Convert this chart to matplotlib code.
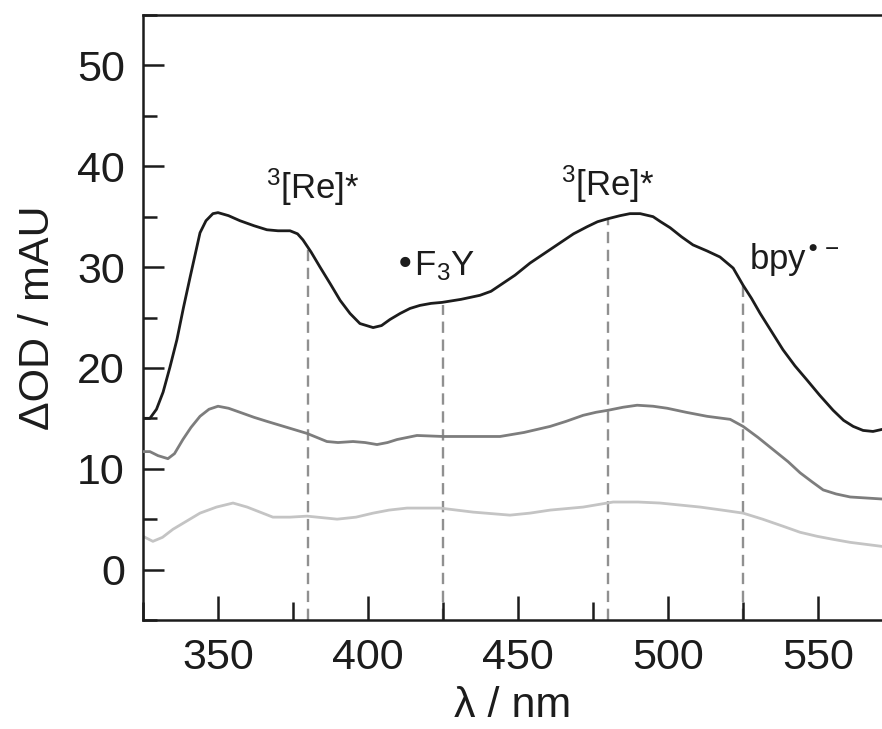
import matplotlib
matplotlib.use("Agg")
import matplotlib.pyplot as plt
from matplotlib.ticker import MultipleLocator

plt.rcParams["font.family"] = ["Liberation Sans", "DejaVu Sans"]
plt.rcParams["mathtext.default"] = "regular"

# Spectra (wavelength in nm, dOD in mAU)
wl_black = [325, 327.3, 329.5, 331.7, 334, 336.3, 338.5, 340.7, 342.5, 344, 346, 348.3, 350,
            353.5, 357.3, 362, 366.3, 370, 374, 376.5, 378.3, 381, 384, 387.5, 390.7, 394, 397.3,
            401.7, 404.5, 407.3, 410.7, 414, 417.3, 421, 424.7, 431, 437.3, 441, 444, 449, 454,
            459, 464, 468.5, 473, 476.5, 480, 484, 487.3, 490.7, 495, 497.5, 500.7, 504.5, 508.3,
            513, 517.3, 521.7, 525, 527.8, 530.7, 534.5, 538.3, 542.3, 546.3, 550.5, 555, 558.5,
            561.7, 565, 568.3, 571.3]
od_black = [15.0, 15.0, 15.9, 17.6, 20.1, 22.8, 26.0, 29.0, 31.4, 33.4, 34.6, 35.3, 35.4,
            35.1, 34.6, 34.1, 33.7, 33.6, 33.6, 33.3, 32.7, 31.5, 30.0, 28.3, 26.7, 25.4, 24.4,
            24.0, 24.2, 24.8, 25.4, 25.9, 26.2, 26.4, 26.5, 26.8, 27.2, 27.6, 28.2, 29.2, 30.4,
            31.4, 32.4, 33.3, 34.0, 34.5, 34.8, 35.1, 35.3, 35.3, 35.0, 34.5, 33.9, 33.0, 32.2,
            31.6, 31.0, 29.9, 28.2, 26.9, 25.4, 23.6, 21.8, 20.2, 18.8, 17.3, 15.8, 14.8,
            14.2, 13.8, 13.7, 13.9]

wl_mid = [325, 327.3, 330, 333.3, 335.5, 338.3, 341, 344, 347, 350, 353.5, 357.3, 362, 366.3,
          373, 379.7, 383, 386.3, 390, 395, 399, 403, 406.5, 409.7, 413, 416.3, 425, 435, 444,
          452, 460.7, 466, 471.7, 476, 480, 485, 489.7, 495, 499.7, 506, 513, 520.7, 525, 530,
          535, 540, 544, 548, 551.7, 556, 560.7, 566, 571.3]
od_mid = [11.7, 11.7, 11.3, 11.0, 11.5, 12.9, 14.1, 15.2, 15.9, 16.2, 16.0, 15.6, 15.1, 14.7,
          14.1, 13.5, 13.1, 12.7, 12.6, 12.7, 12.6, 12.4, 12.6, 12.9, 13.1, 13.3, 13.2, 13.2, 13.2,
          13.6, 14.2, 14.7, 15.3, 15.6, 15.8, 16.1, 16.3, 16.2, 16.0, 15.6, 15.2, 14.9, 14.2, 13.1,
          11.9, 10.7, 9.6, 8.7, 7.9, 7.5, 7.2, 7.1, 7.0]

wl_light = [325, 328.3, 331.5, 335, 339.5, 344, 349.5, 355, 359.7, 364, 368.3, 374, 379.7,
            389.7, 396, 401.7, 407, 413, 424, 435, 447.3, 454, 460.7, 471.7, 481.7, 490, 497.3,
            504, 510.7, 518, 525, 531.5, 538.3, 544, 549.7, 555, 560.7, 566, 571.3]
od_light = [3.3, 2.8, 3.2, 4.0, 4.8, 5.6, 6.2, 6.6, 6.2, 5.7, 5.2, 5.2, 5.3,
            5.0, 5.2, 5.6, 5.9, 6.1, 6.1, 5.7, 5.4, 5.6, 5.9, 6.2, 6.7, 6.7, 6.6,
            6.4, 6.2, 5.9, 5.6, 5.0, 4.3, 3.7, 3.3, 3.0, 2.7, 2.5, 2.3]

# marker lines: wavelength and the height of the black trace there
mark_wl = [380, 425, 480, 525]
mark_top = [32.2, 26.2, 34.8, 28.2]

# band labels: text, x (nm), y (mAU), alignment
labels = ["$^3$[Re]*", "\u2022F$_3$Y", "$^3$[Re]*", "bpy$^{\u2022\u2212}$"]
label_x = [381.5, 408.8, 480, 527]
label_y = [36.8, 29.2, 37.1, 29.7]
label_ha = ["center", "left", "center", "left"]

fig = plt.figure(figsize=(8.82, 7.29), dpi=100)
ax = fig.add_axes([143 / 882, 1 - 620 / 729, 1 - 143 / 882, (620 - 15) / 729])

ax.set_xlim(325, 571.3)
ax.set_ylim(-5, 55)

ax.vlines(mark_wl, ax.get_ylim()[0], mark_top, colors="#909090", lw=1.7,
          linestyles=(0, (4.8, 2.8)), zorder=1)

ax.plot(wl_light, od_light, color="#c4c4c4", lw=2.0, zorder=2)
ax.plot(wl_mid, od_mid, color="#7d7d7d", lw=2.0, zorder=3)
ax.plot(wl_black, od_black, color="#1c1c1c", lw=2.0, zorder=4)

for txt, x, y, ha in zip(labels, label_x, label_y, label_ha):
    ax.text(x, y, txt, ha=ha, va="baseline", fontsize=25, color="#1c1c1c")

ax.spines["right"].set_visible(False)
for s in ["left", "bottom", "top"]:
    ax.spines[s].set_linewidth(1.8)
    ax.spines[s].set_color("#1c1c1c")

ax.xaxis.set_major_locator(MultipleLocator(50))
ax.xaxis.set_minor_locator(MultipleLocator(25))
ax.yaxis.set_major_locator(MultipleLocator(10))
ax.yaxis.set_minor_locator(MultipleLocator(5))
ax.tick_params(axis="both", which="both", direction="in", width=1.8, color="#1c1c1c",
               top=False, right=False, labelsize=31, labelcolor="#1c1c1c", pad=13)
ax.tick_params(axis="x", which="major", length=17)
ax.tick_params(axis="x", which="minor", length=13)
ax.tick_params(axis="y", which="major", length=15)
ax.tick_params(axis="y", which="minor", length=10)

ax.set_xlabel("\u03bb / nm", fontsize=31, color="#1c1c1c", labelpad=6)
ax.set_ylabel("\u0394OD / mAU", fontsize=31, color="#1c1c1c", labelpad=14)

fig.savefig("out.png", dpi=100, facecolor="white")
